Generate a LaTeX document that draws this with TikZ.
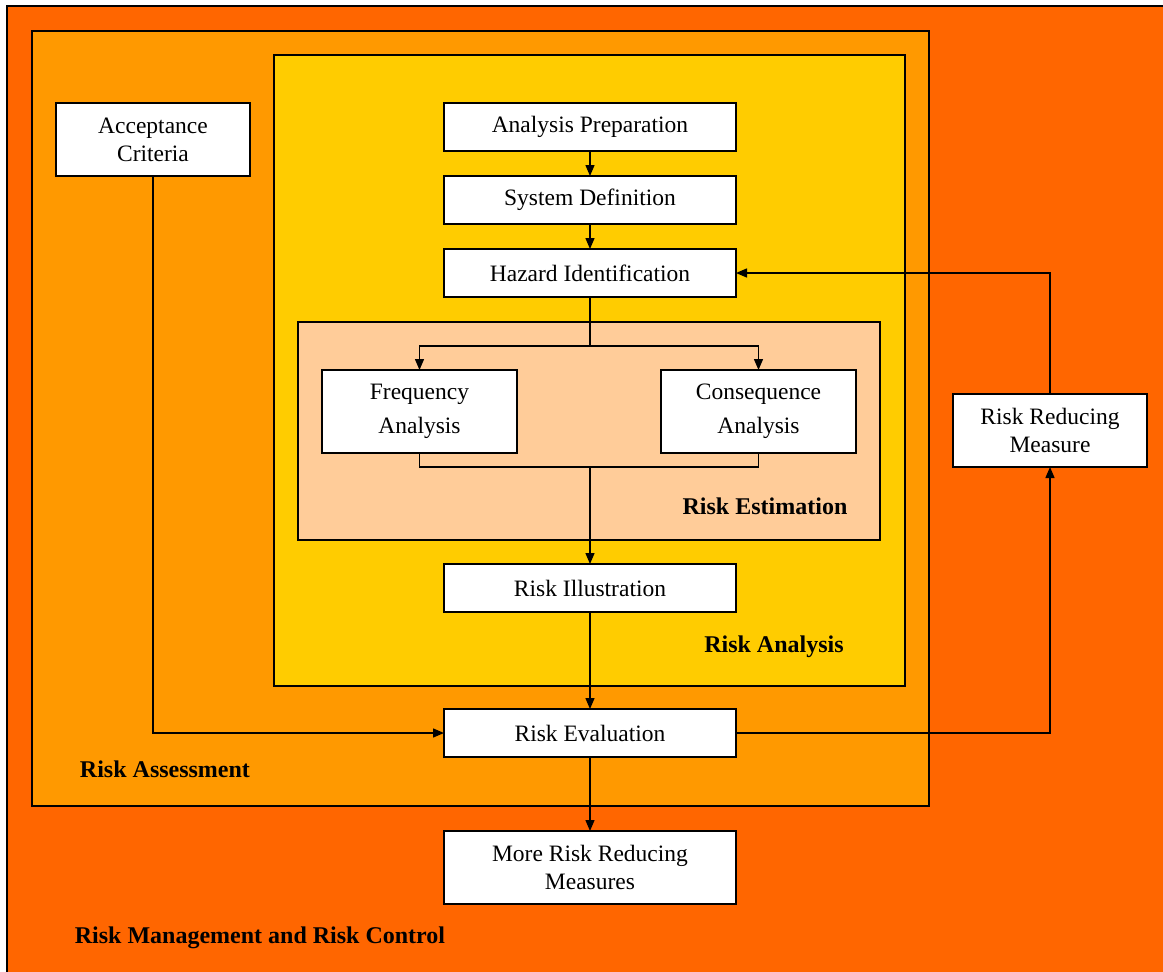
\documentclass[tikz,border=0pt]{standalone}
\usepackage{fontspec}
\setmainfont{Liberation Serif}
\usetikzlibrary{arrows.meta}
\definecolor{cOuter}{HTML}{FF6600}
\definecolor{cAssess}{HTML}{FF9900}
\definecolor{cAnalysis}{HTML}{FFCC00}
\definecolor{cEstim}{HTML}{FFCC99}
\begin{document}
\begin{tikzpicture}[x=1pt,y=-1pt,
  frame/.style={draw, line width=1.4pt, anchor=north west, inner sep=0pt, outer sep=0pt},
  box/.style={draw, fill=white, line width=1.4pt, inner sep=0pt, outer sep=0pt, align=center,
    font=\fontsize{23.5}{28}\selectfont},
  lbl/.style={font=\fontsize{24}{28}\selectfont\bfseries, inner sep=0pt},
  conn/.style={line width=1.4pt},
  arr/.style={conn, -{Triangle[length=11pt,width=9pt]}}]
\useasboundingbox (0,0) rectangle (1163,972);
\fill[white] (0,0) rectangle (1163,972);
\clip (0,0) rectangle (1163,972);
% containers
\node[frame, fill=cOuter, minimum width=1175pt, minimum height=985pt] (rm) at (7,6) {};
\node[frame, fill=cAssess, minimum width=897pt, minimum height=775pt] (ra) at (32,31) {};
\node[frame, fill=cAnalysis, minimum width=631pt, minimum height=631pt] (an) at (274,55) {};
\node[frame, fill=cEstim, minimum width=582pt, minimum height=218pt] (es) at (298,322) {};
% boxes
\node[box, minimum width=194pt, minimum height=73pt] (ac) at (153,139.5) {Acceptance\\Criteria};
\node[box, minimum width=292pt, minimum height=48pt] (ap) at (590,127) {Analysis Preparation};
\node[box, minimum width=292pt, minimum height=48pt] (sd) at (590,200) {System Definition};
\node[box, minimum width=292pt, minimum height=48pt] (hz) at (590,273) {Hazard Identification};
\node[box, minimum width=195pt, minimum height=83pt] (fa) at (419.5,411.5) {Frequency\\[6pt]Analysis};
\node[box, minimum width=195pt, minimum height=83pt] (ca) at (758.5,411.5) {Consequence\\[6pt]Analysis};
\node[box, minimum width=292pt, minimum height=48pt] (ri) at (590,588) {Risk Illustration};
\node[box, minimum width=292pt, minimum height=48pt] (re) at (590,733) {Risk Evaluation};
\node[box, minimum width=292pt, minimum height=73pt] (mr) at (590,867.5) {More Risk Reducing\\Measures};
\node[box, minimum width=194pt, minimum height=73pt] (rr) at (1050,430.5) {Risk Reducing\\Measure};
% labels
\node[lbl] (les) at (765,506) {Risk Estimation};
\node[lbl] (lan) at (774,647) {Risk Analysis};
\node[lbl] (lra) at (165,769) {Risk Assessment};
\node[lbl] (lrm) at (260,938) {Risk Management and Risk Control};
% connectors
\coordinate (j1) at (590,346);
\coordinate (j2) at (590,467);
\draw[arr] (ap.south) -- (sd.north);
\draw[arr] (sd.south) -- (hz.north);
\draw[conn] (hz.south) -- (j1);
\draw[arr] (j1) -| (fa.north);
\draw[arr] (j1) -| (ca.north);
\draw[conn] (fa.south) |- (j2) -| (ca.south);
\draw[arr] (j2) -- (ri.north);
\draw[arr] (ri.south) -- (re.north);
\draw[arr] (re.south) -- (mr.north);
\draw[arr] (ac.south) |- (re.west);
\draw[arr] (re.east) -| (rr.south);
\draw[arr] (rr.north) |- (hz.east);
\end{tikzpicture}
\end{document}
